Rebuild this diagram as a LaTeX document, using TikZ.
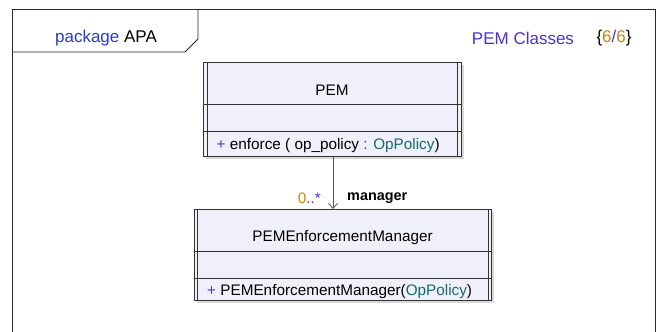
\documentclass[tikz,border=0pt]{standalone}
\usepackage{fontspec}
\setmainfont{Liberation Sans}
\usetikzlibrary{arrows.meta,shadows}
\definecolor{pkgblue}{RGB}{40,60,205}
\definecolor{ttlpurple}{RGB}{75,50,205}
\definecolor{umlorange}{RGB}{200,135,10}
\definecolor{umlteal}{RGB}{25,105,105}
\definecolor{umlplus}{RGB}{80,50,200}
\definecolor{boxfill}{RGB}{240,240,250}
\definecolor{boxline}{RGB}{50,50,50}
\tikzset{
  classbox/.style={draw=boxline, line width=0.9pt, fill=boxfill, anchor=north west, inner sep=0pt,
    drop shadow={shadow xshift=2.5pt, shadow yshift=-2.5pt, fill=black!30, opacity=0.5}},
  inner line/.style={draw=boxline, line width=0.9pt},
  clsfont/.style={font=\fontsize{15.3}{18}\selectfont, inner sep=0pt},
  ttlfont/.style={font=\fontsize{17}{20}\selectfont, inner sep=0pt},
  framel/.style={draw=black!85, line width=0.9pt},
  assoc/.style={draw=black!65, line width=0.8pt, -{Straight Barb[length=5pt,width=9pt,line width=0.8pt]}}
}
\begin{document}
\begin{tikzpicture}[x=1pt,y=-1pt]
\useasboundingbox (0,0) rectangle (656,332);
\fill[white] (0,0) rectangle (656,332);
% frame
\draw[framel] (12,332) -- (12,9) -- (655,9) -- (655,332);
\draw[framel] (198,9) -- (198,39) -- (185,52) -- (12,52);
\node[ttlfont] (pkg) at (106,38.5) {\textcolor{pkgblue}{package} APA};
\node[ttlfont, text=ttlpurple] (ttl) at (523,38.5) {PEM Classes};
\node[ttlfont] (cnt) at (614,38.5) {\{\textcolor{umlorange}{6}\textcolor{ttlpurple}{/}\textcolor{umlorange}{6}\}};
% class PEM
\node[classbox, minimum width=258pt, minimum height=94pt] (pem) at (203,62) {};
\draw[inner line] ([xshift=4pt]pem.north west) -- ([xshift=4pt]pem.south west);
\draw[inner line] ([xshift=-4pt]pem.north east) -- ([xshift=-4pt]pem.south east);
\draw[inner line] (pem.west |- 0,104) -- (pem.east |- 0,104);
\draw[inner line] (pem.west |- 0,131) -- (pem.east |- 0,131);
\node[clsfont] (pemname) at (332,90) {PEM};
\node[clsfont, anchor=west] (pemop) at (216.5,146) {\textcolor{umlplus}{+} enforce ( op\_policy \textcolor{pkgblue}{:} \textcolor{umlteal}{OpPolicy})};
% class PEMEnforcementManager
\node[classbox, minimum width=297pt, minimum height=91pt] (mgr) at (194,209) {};
\draw[inner line] ([xshift=3pt]mgr.north west) -- ([xshift=3pt]mgr.south west);
\draw[inner line] ([xshift=-3pt]mgr.north east) -- ([xshift=-3pt]mgr.south east);
\draw[inner line] (mgr.west |- 0,251) -- (mgr.east |- 0,251);
\draw[inner line] (mgr.west |- 0,278) -- (mgr.east |- 0,278);
\node[clsfont] (mgrname) at (342.5,238) {PEMEnforcementManager};
\node[clsfont, anchor=west] (mgrop) at (207,292) {\textcolor{umlplus}{+} PEMEnforcementManager(\textcolor{umlteal}{OpPolicy})};
% association
\draw[assoc] (pem.south -| 333,0) -- (mgr.north -| 333,0);
\node[clsfont, anchor=east] (mult) at (321,198) {\textcolor{umlorange}{0}\textcolor{umlplus}{..*}};
\node[font=\bfseries\fontsize{14.4}{17}\selectfont, inner sep=0pt, anchor=west] (role) at (347,198) {manager};
\end{tikzpicture}
\end{document}
